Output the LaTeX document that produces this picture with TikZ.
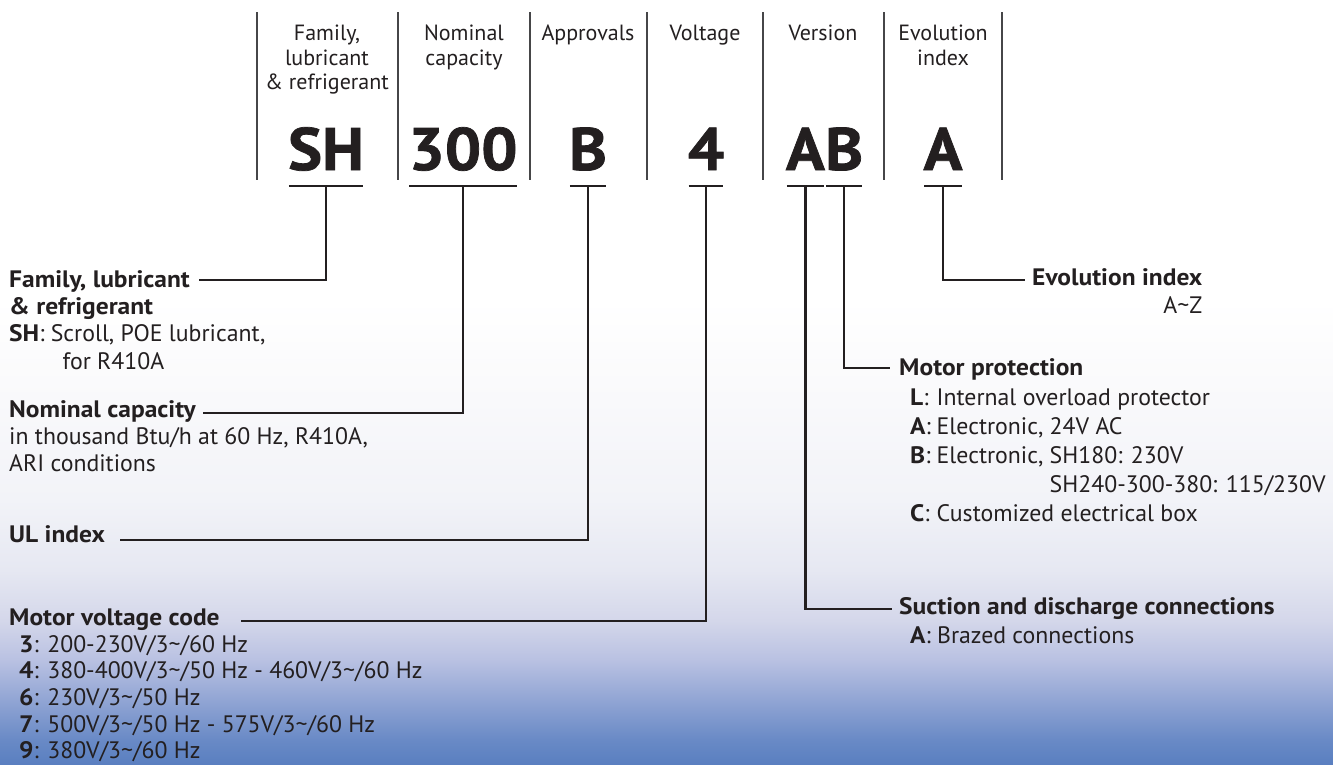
\documentclass[tikz,border=0pt]{standalone}
\usepackage{fontspec}
\setmainfont{PT Sans}[BoldFeatures={FakeStretch=1.07}]
\usetikzlibrary{positioning}
\definecolor{ink}{RGB}{35,31,32}
\definecolor{rulegray}{RGB}{70,70,72}
\definecolor{fadeA}{RGB}{90,127,192}
\definecolor{fadeB}{RGB}{105,138,198}
\definecolor{fadeC}{RGB}{145,165,212}
\definecolor{fadeD}{RGB}{185,193,226}
\definecolor{fadeE}{RGB}{212,215,234}
\definecolor{fadeF}{RGB}{230,232,242}
\definecolor{fadeG}{RGB}{242,243,248}
\definecolor{fadeH}{RGB}{249,249,251}
\pgfdeclareverticalshading{bgfade}{100bp}{color(0bp)=(fadeA); color(25bp)=(fadeA);
  color(26.6bp)=(fadeB); color(29.2bp)=(fadeC); color(31.8bp)=(fadeD); color(34.4bp)=(fadeE);
  color(37.7bp)=(fadeF); color(42.3bp)=(fadeG); color(48.8bp)=(fadeH); color(55.4bp)=(white);
  color(100bp)=(white)}
\newcommand{\tld}{\textasciitilde}
\newcommand{\keyof}[1]{\makebox[26.5pt][l]{\textbf{#1}:}}

\begin{document}
\begin{tikzpicture}[x=1pt,y=-1pt,
  hdr/.style={font=\fontsize{22}{24.5}\selectfont, align=center, anchor=north, inner sep=0pt, text=ink},
  code/.style={font=\fontsize{60}{60}\selectfont\bfseries\addfontfeature{FakeBold=1.2}, anchor=base, inner sep=0pt, text=ink},
  ttl/.style={font=\fontsize{23.8}{27.5}\selectfont\bfseries, anchor=base west, inner sep=0pt, text=ink},
  desc/.style={font=\fontsize{23.8}{27.5}\selectfont, align=left, anchor=north west, inner sep=0pt, text=ink},
  sep/.style={line width=1.2pt, draw=rulegray},
  conn/.style={line width=2.3pt, draw=ink}]
  \useasboundingbox (0,0) rectangle (1333,764);
  \shade[shading=bgfade] (0,0) rectangle (1333,764);

  \foreach \x in {257,398,530,647,763,884,1002}
    \draw[sep] (\x,12) -- (\x,180);

  \node[hdr] (famh) at (327,25) {Family,\\lubricant\\\& refrigerant};
  \node[hdr] (caph) at (464,25) {Nominal\\capacity};
  \node[hdr] (apprh) at (588,25) {Approvals};
  \node[hdr] (volth) at (705,25) {Voltage};
  \node[hdr] (verh) at (823,25) {Version};
  \node[hdr] (evoh) at (943,25) {Evolution\\index};

  \node[code] (famc) at (326,170) {SH};
  \node[code] (capc) at (463,170) {300};
  \node[code] (apprc) at (588,170) {B};
  \node[code] (voltc) at (706,170) {4};
  \node[code, anchor=base east] (vera) at (825,170) {A};
  \node[code, anchor=base west] (verb) at (825,170) {B};
  \node[code] (evoc) at (943,170) {A};

  \foreach \c in {famc,capc,apprc,voltc,vera,verb,evoc}
    \draw[conn, shorten <=1pt, shorten >=1pt] (\c.west |- 0,186) -- (\c.east |- 0,186);

  \node[ttl] (famttl) at (9,287) {Family, lubricant};
  \node[desc] (famdesc) at (9,297) {\textbf{\& refrigerant}\\\textbf{SH}: Scroll, POE lubricant,\\\hspace*{53.5pt}for R410A};
  \node[ttl] (capttl) at (9,417) {Nominal capacity};
  \node[desc] (capdesc) at (9,427) {in thousand Btu/h at 60 Hz, R410A,\\ARI conditions};
  \node[ttl] (apprttl) at (9,542) {UL index};
  \node[ttl] (voltttl) at (9,625) {Motor voltage code};
  \node[desc, font=\fontsize{23.8}{26.7}\selectfont] (voltdesc) at (19,635) {\textbf{3}: 200-230V/3\tld/60 Hz\\
    \textbf{4}: 380-400V/3\tld/50 Hz - 460V/3\tld/60 Hz\\
    \textbf{6}: 230V/3\tld/50 Hz\\
    \textbf{7}: 500V/3\tld/50 Hz - 575V/3\tld/60 Hz\\
    \textbf{9}: 380V/3\tld/60 Hz};

  \node[ttl] (evottl) at (1032,285) {Evolution index};
  \node[desc, anchor=north east] (evodesc) at (evottl.base east |- 0,296) {A\tld Z};
  \node[ttl] (protttl) at (899,375) {Motor protection};
  \node[desc, font=\fontsize{23.8}{29}\selectfont] (protdesc) at (910,389) {\keyof{L}Internal overload protector\\
    \keyof{A}Electronic, 24V AC\\
    \keyof{B}Electronic, SH180: 230V\\
    \hspace*{26.5pt}\phantom{Electronic, }SH240-300-380: 115/230V\\
    \keyof{C}Customized electrical box};
  \node[ttl] (suctttl) at (899,614) {Suction and discharge connections};
  \node[desc] (suctdesc) at (910,626) {\textbf{A}: Brazed connections};

  \draw[conn] (famc |- 0,186) |- ([xshift=9pt,yshift=7pt]famttl.base east);
  \draw[conn] (capc |- 0,186) |- ([xshift=7pt,yshift=4pt]capttl.base east);
  \draw[conn] (apprc |- 0,186) |- ([xshift=15pt,yshift=2pt]apprttl.base east);
  \draw[conn] (voltc |- 0,186) |- ([xshift=21pt,yshift=4pt]voltttl.base east);
  \draw[conn] (evoc |- 0,186) |- ([xshift=-7pt,yshift=5pt]evottl.base west);
  \draw[conn] (verb |- 0,186) |- ([xshift=-9pt,yshift=7pt]protttl.base west);
  \draw[conn] (vera |- 0,186) |- ([xshift=-7pt,yshift=5pt]suctttl.base west);
\end{tikzpicture}
\end{document}
